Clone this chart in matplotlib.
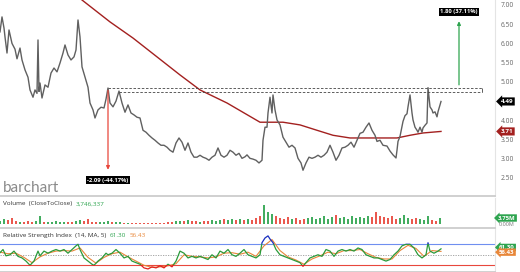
import numpy as np
import matplotlib
matplotlib.use("Agg")
import matplotlib.pyplot as plt
from matplotlib.patches import Rectangle

plt.rcParams['font.family'] = ['Open Sans', 'DejaVu Sans']

# closing price, sampled along the trading days
days = [0, 2, 4, 5, 7, 9, 12, 15, 17, 20, 22, 25, 28, 30, 33, 35, 37, 38, 39, 40,
        42, 45, 48, 51, 54, 57, 60, 63, 65, 68, 71, 74, 76, 78, 80, 82, 85, 88, 90, 93,
        95, 98, 101, 104, 106, 108, 110, 113, 116, 119, 122, 125, 128, 131, 134, 137, 140, 143, 146, 149,
        152, 155, 158, 161, 164, 167, 170, 173, 176, 179, 182, 185, 188, 191, 194, 197, 200, 203, 206, 209,
        212, 215, 218, 221, 224, 227, 230, 233, 236, 239, 242, 245, 247, 250, 253, 256, 259, 262, 263, 265,
        267, 268, 270, 272, 273, 275, 277, 280, 283, 286, 289, 292, 295, 298, 301, 303, 306, 309, 312, 315,
        318, 321, 324, 327, 330, 333, 336, 339, 342, 345, 348, 351, 354, 357, 360, 363, 366, 369, 372, 375,
        377, 380, 383, 387, 390, 393, 396, 397, 398, 400, 402, 403, 405, 407, 408, 410, 412, 413, 415, 417,
        418, 420, 422, 423, 425, 427, 428, 430, 432, 433, 435, 437, 438, 440, 441]
close = [6.30, 6.69, 6.40, 6.17, 5.75, 6.35, 6.00, 5.85, 5.60, 5.88, 5.57, 5.31, 5.12, 4.79, 4.60, 4.79, 4.70, 6.09, 4.75, 4.97,
         4.58, 4.92, 4.86, 5.23, 5.36, 5.26, 5.49, 5.75, 5.96, 5.70, 5.57, 5.65, 5.83, 6.61, 6.17, 5.39, 5.12, 4.86, 4.45, 4.27,
         4.06, 4.27, 4.34, 4.32, 4.55, 4.84, 4.45, 4.35, 4.50, 4.76, 4.45, 4.21, 4.40, 4.19, 4.14, 4.08, 4.06, 3.74, 3.69, 3.61,
         3.54, 3.48, 3.41, 3.35, 3.35, 3.30, 3.22, 3.17, 3.41, 3.54, 3.43, 3.22, 3.41, 3.17, 3.04, 3.04, 3.09, 3.04, 3.01, 2.96,
         3.04, 3.09, 3.28, 3.09, 3.04, 3.09, 3.22, 3.17, 3.09, 3.14, 3.01, 3.05, 3.10, 3.01, 2.99, 2.96, 2.89, 2.96, 3.48, 3.82,
         3.82, 4.19, 4.60, 4.19, 4.66, 4.27, 4.01, 3.88, 3.56, 3.43, 3.30, 3.35, 3.28, 3.01, 2.89, 2.70, 2.89, 3.04, 3.01, 3.04,
         3.09, 3.04, 3.09, 3.17, 3.35, 3.17, 2.96, 3.09, 3.28, 3.30, 3.35, 3.43, 3.30, 3.48, 3.66, 3.69, 3.82, 3.93, 3.74, 3.61,
         3.45, 3.48, 3.35, 3.33, 3.20, 3.10, 3.02, 3.22, 3.45, 3.58, 3.84, 3.97, 4.12, 4.17, 4.35, 4.66, 4.19, 4.01, 3.82, 3.74,
         3.69, 3.82, 3.69, 3.80, 3.87, 3.93, 4.85, 4.35, 4.27, 4.19, 4.22, 4.09, 4.22, 4.40, 4.49]

# 200-day moving average
ma_days = [75, 82, 110, 133, 157, 180, 200, 227, 260, 267, 283, 300, 317, 333, 350, 367, 383, 397, 410, 423, 441]
ma200 = [7.30, 7.13, 6.56, 6.14, 5.65, 5.18, 4.79, 4.45, 3.95, 3.95, 3.95, 3.88, 3.74, 3.61, 3.54, 3.54, 3.54, 3.54, 3.61, 3.67, 3.71]

# volume in millions
vol_days = list(range(0, 444, 4))
volume = [1.9, 3.1, 2.5, 3.75, 1.9, 1.25, 1.25, 1.9, 1.25, 1.9, 5.0, 1.25, 1.25, 1.25, 1.9, 1.25, 1.25, 1.25, 1.25, 1.9,
          2.5, 1.9, 3.1, 1.25, 1.25, 1.25, 1.25, 1.9, 1.25, 1.25, 1.25, 0.6, 0.6, 0.6, 0.6, 0.6, 0.6, 0.6, 0.6, 0.6,
          0.6, 0.6, 1.25, 1.25, 1.9, 1.9, 1.9, 2.5, 1.9, 1.9, 1.25, 1.9, 1.9, 2.5, 1.9, 2.5, 3.1, 2.5, 3.1, 2.5,
          3.1, 2.5, 3.1, 2.5, 3.75, 5.0, 11.9, 7.5, 6.25, 5.0, 3.75, 3.1, 4.4, 3.1, 3.75, 2.5, 3.1, 3.75, 4.4, 3.1,
          3.75, 5.0, 3.1, 4.4, 5.6, 3.75, 4.4, 3.1, 5.0, 3.75, 4.4, 3.75, 5.0, 4.4, 7.5, 5.0, 4.4, 3.75, 5.0, 3.1,
          3.75, 5.6, 3.75, 3.1, 3.75, 3.1, 2.5, 5.0, 2.5, 1.9, 3.75]

# RSI(14) and its 5-period MA
rsi_days = [0, 3, 6, 10, 14, 18, 22, 26, 30, 34, 38, 40, 44, 48, 52, 56, 60, 64, 68, 72,
            76, 78, 80, 84, 88, 92, 94, 98, 102, 106, 108, 112, 116, 120, 124, 128, 132, 136, 140, 144,
            148, 152, 156, 160, 164, 168, 172, 176, 180, 184, 188, 192, 196, 200, 204, 208, 212, 216, 220, 224,
            228, 232, 236, 240, 244, 248, 252, 256, 260, 262, 265, 268, 270, 273, 276, 280, 284, 288, 292, 296,
            300, 303, 306, 310, 314, 318, 322, 326, 330, 334, 338, 342, 346, 350, 354, 358, 362, 366, 370, 374,
            378, 382, 386, 390, 394, 398, 402, 406, 410, 414, 418, 422, 426, 428, 430, 434, 438, 441]
rsi = [54, 60, 48, 50, 57, 47, 44, 38, 30, 38, 57, 48, 57, 53, 57, 60, 57, 60, 53, 60,
       67, 70, 60, 44, 38, 32, 30, 38, 44, 53, 50, 53, 60, 53, 44, 47, 38, 35, 32, 25,
       23, 27, 25, 29, 25, 32, 27, 38, 57, 53, 44, 47, 44, 47, 44, 41, 50, 44, 57, 53,
       60, 50, 47, 53, 60, 50, 47, 44, 50, 73, 82, 86, 80, 73, 60, 50, 47, 44, 41, 38,
       35, 28, 35, 44, 47, 50, 47, 60, 57, 47, 57, 60, 57, 60, 57, 63, 60, 50, 47, 44,
       44, 41, 38, 41, 50, 57, 67, 70, 70, 63, 50, 44, 50, 73, 57, 53, 57, 61.3]
rsi_ma_days = [0, 8, 16, 24, 32, 40, 48, 56, 64, 72, 80, 88, 96, 104, 112, 120, 128, 136, 144, 152,
               160, 168, 176, 184, 192, 200, 208, 216, 224, 232, 240, 248, 256, 264, 272, 280, 288, 296, 304, 312,
               320, 328, 336, 344, 352, 360, 368, 376, 384, 392, 400, 408, 416, 424, 432, 441]
rsi_ma = [55, 52, 53, 45, 35, 46, 53, 57, 58, 57, 63, 45, 34, 45, 52, 55, 46, 38, 30, 26,
          27, 29, 33, 50, 47, 46, 44, 46, 53, 54, 51, 55, 47, 67, 79, 58, 46, 40, 32, 42,
          48, 55, 52, 58, 58, 60, 52, 45, 42, 42, 58, 68, 62, 47, 58, 56.43]

price_ticks = [2.5, 3.0, 3.5, 4.0, 5.0, 5.5, 6.0, 6.5, 7.0]

GREEN = '#2ea44f'
RED = '#e8473c'
MA_RED = '#a3201f'
ORANGE = '#e8873a'

fig = plt.figure(figsize=(5.2, 2.72), dpi=100)
W, H = 520, 272
ax = fig.add_axes([0, 1 - 196 / H, 495 / W, 196 / H])
axv = fig.add_axes([0, 1 - 228 / H, 495 / W, 30 / H])
axr = fig.add_axes([0, 0, 495 / W, 43 / H])

for a in (ax, axv, axr):
    a.set_xlim(0, 495)
    a.set_xticks([])
    a.yaxis.tick_right()
    a.tick_params(axis='y', length=0, pad=4, labelsize=4.8, labelcolor='#666666')
    for s in ('top', 'left'):
        a.spines[s].set_visible(False)
    a.spines['right'].set_color('#e4e4e4')
    a.spines['bottom'].set_color('#c8c8c8')
    a.spines['bottom'].set_linewidth(1.2)

# ---- price panel
ax.set_ylim(2.03, 7.13)
ax.set_yticks(price_ticks)
ax.set_yticklabels([f"{v:.2f}" for v in price_ticks])
ax.plot(ma_days, ma200, color=MA_RED, lw=1.0)
ax.plot(days, close, color='#606060', lw=1.0)

top_lvl, low_lvl = 4.85, 4.73
ax.hlines(top_lvl, 108, 482, colors='#444444', lw=0.6, linestyles=(0, (3, 2)))
ax.hlines(low_lvl, 119, 482, colors='#444444', lw=0.6, linestyles=(0, (3, 2)))
ax.vlines(482, low_lvl, top_lvl, colors='#444444', lw=0.6)

ax.annotate('', xy=(108, 2.64), xytext=(108, top_lvl),
            arrowprops=dict(arrowstyle='-|>', color=RED, lw=0.9, mutation_scale=5))
ax.text(108, 2.44, '-2.09 (-44.17%)', color='white', fontsize=4.2, ha='center', va='center',
        fontweight='bold', bbox=dict(boxstyle='square,pad=0.25', fc='black', ec='none'))
ax.annotate('', xy=(459, 6.65), xytext=(459, top_lvl),
            arrowprops=dict(arrowstyle='-|>', color=GREEN, lw=0.9, mutation_scale=5))
ax.text(459, 6.82, '1.80 (37.11%)', color='white', fontsize=4.2, ha='center', va='center',
        fontweight='bold', bbox=dict(boxstyle='square,pad=0.25', fc='black', ec='none'))

ax.text(0.005, 0.04, 'barchart', transform=ax.transAxes, fontsize=11, color='#8a8a8a',
        family=['Lato', 'DejaVu Sans'], va='center', ha='left')

yt = ax.get_yaxis_transform()
ax.text(1.024, 4.49, '4.49', transform=yt, color='white', fontsize=4.5, fontweight='bold',
        ha='center', va='center', bbox=dict(boxstyle='larrow,pad=0.25', fc='black', ec='none'))
ax.text(1.024, 3.71, '3.71', transform=yt, color='white', fontsize=4.5, fontweight='bold',
        ha='center', va='center', bbox=dict(boxstyle='larrow,pad=0.25', fc=MA_RED, ec='none'))


def chained_label(axis, y, parts, size=4.6):
    # draws coloured pieces one after another on the same line
    t = axis.text(0.006, y, parts[0][0], transform=axis.transAxes, fontsize=size,
                  color=parts[0][1], va='center', ha='left')
    for s, c in parts[1:]:
        t = axis.annotate(s, xy=(1, 0.5), xycoords=t, xytext=(2.5, 0), textcoords='offset points',
                          fontsize=size, color=c, va='center', ha='left')


# ---- volume panel
axv.set_ylim(-2.5, 16.25)
axv.set_yticks([])
cl_at_vol = np.interp(vol_days, days, close)
up = np.r_[True, np.diff(cl_at_vol) >= 0]
vcolors = [GREEN if u else RED for u in up]
axv.bar(vol_days, volume, width=2.6, color=vcolors, linewidth=0, alpha=0.9)
chained_label(axv, 0.8, [('Volume  (CloseToClose)', '#333333'), ('3,746,337', GREEN)])
vt = axv.get_yaxis_transform()
axv.text(1.024, 3.75, '3.75M', transform=vt, color='white', fontsize=4.3, fontweight='bold',
         ha='center', va='center', bbox=dict(boxstyle='larrow,pad=0.2', fc=GREEN, ec='none'))
axv.text(1.024, -0.6, '0.00M', transform=vt, color='#777777', fontsize=4, ha='center', va='center')

# ---- RSI panel
axr.set_ylim(17.2, 99.1)
axr.set_yticks([])
axr.axhline(70, color='#6f8ff0', lw=0.8)
axr.axhline(30, color='#e8473c', lw=0.8)
axr.axhline(50, color='#999999', lw=0.6, ls=(0, (1.5, 1.5)))
axr.plot(rsi_ma_days, rsi_ma, color=ORANGE, lw=0.8)
for lo, hi, c in ((0, 30, '#e02020'), (30, 70, '#2a9a3a'), (70, 100, '#1a2fc0')):
    ln, = axr.plot(rsi_days, rsi, color=c, lw=0.9)
    ln.set_clip_path(Rectangle((0, lo), 500, hi - lo, transform=axr.transData))
chained_label(axr, 0.84, [('Relative Strength Index  (14, MA, 5)', '#333333'),
                          ('61.30', GREEN), ('56.43', ORANGE)])
rt = axr.get_yaxis_transform()
axr.text(1.024, 64, '61.30', transform=rt, color='white', fontsize=4.3, fontweight='bold',
         ha='center', va='center', bbox=dict(boxstyle='larrow,pad=0.2', fc=GREEN, ec='none'))
axr.text(1.024, 55, '56.43', transform=rt, color='white', fontsize=4.3, fontweight='bold',
         ha='center', va='center', bbox=dict(boxstyle='larrow,pad=0.2', fc=ORANGE, ec='none'))

fig.savefig('out.png', dpi=100)
